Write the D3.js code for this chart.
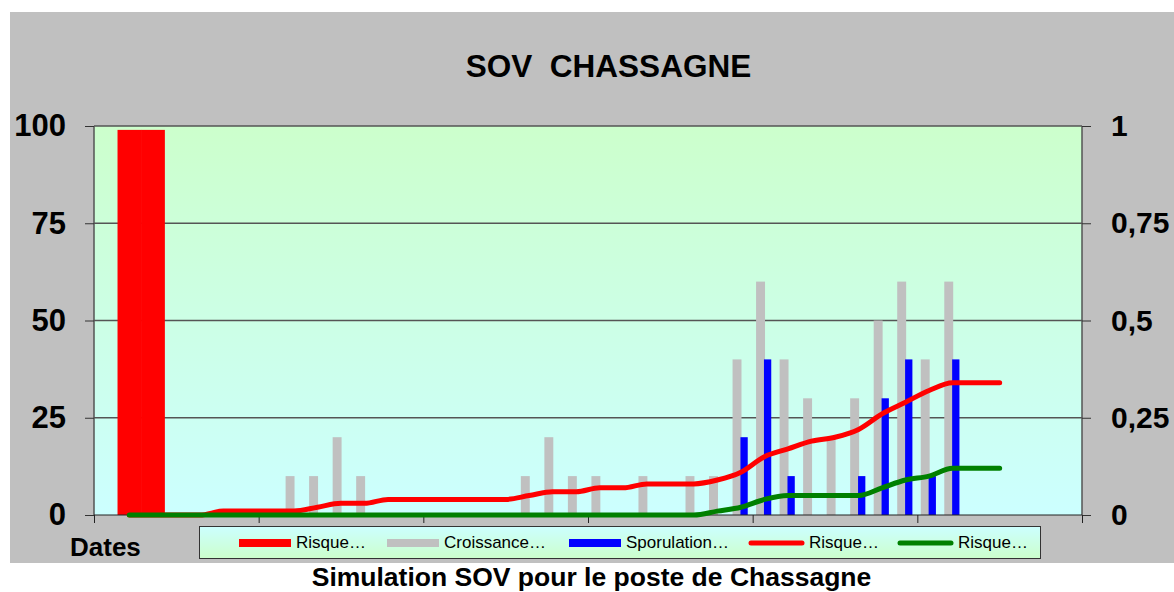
<!DOCTYPE html>
<html><head><meta charset="utf-8">
<script src="https://cdn.jsdelivr.net/npm/d3@7"></script>
<style>
html,body{margin:0;padding:0;background:#fff;}
svg{display:block;font-family:"Liberation Sans",Arial,sans-serif;}
</style></head>
<body>
<svg id="chart" width="1174" height="592"></svg>
<script>
// ---- data ----
const categories = d3.range(1, 43).map(d => "J" + d);
const riskBar = [0,99,99,0,0,0,0,0,0,0,0,0,0,0,0,0,0,0,0,0,0,0,0,0,0,0,0,0,0,0,0,0,0,0,0,0,0,0,0,0,0,0];
const croissance = [0,0,0,0,0,0,0,0,10,10,20,10,0,0,0,0,0,0,10,20,10,10,0,10,0,10,10,40,60,40,30,20,30,50,60,40,60,0,0,0,0,0];
const sporulation = [0,0,0,0,0,0,0,0,0,0,0,0,0,0,0,0,0,0,0,0,0,0,0,0,0,0,0,20,40,10,0,0,10,30,40,10,40,0,0,0,0,0];
const risqueRouge = [null,0,0,0,0,0.01,0.01,0.01,0.01,0.02,0.03,0.03,0.04,0.04,0.04,0.04,0.04,0.04,0.05,0.06,0.06,0.07,0.07,0.08,0.08,0.08,0.09,0.11,0.15,0.17,0.19,0.20,0.22,0.26,0.29,0.32,0.34,0.34,0.34,null,null,null];
const risqueVert = [null,0,0,0,0,0,0,0,0,0,0,0,0,0,0,0,0,0,0,0,0,0,0,0,0,0,0.01,0.02,0.04,0.05,0.05,0.05,0.05,0.07,0.09,0.10,0.12,0.12,0.12,null,null,null];
const leftTicks = [0,25,50,75,100];
const rightTicks = [0,0.25,0.5,0.75,1];
const seriesNames = ["Risque\u2026","Croissance\u2026","Sporulation\u2026","Risque\u2026","Risque\u2026"];
const title = "SOV  CHASSAGNE";
const subtitle = "Simulation SOV pour le poste de Chassagne";
const xTitle = "Dates";

// ---- layout ----
const L = 94, R = 1082, T = 126, B = 515;
const svg = d3.select("#chart");
const defs = svg.append("defs");
const g1 = defs.append("linearGradient").attr("id","plotbg").attr("x1",0).attr("y1",0).attr("x2",0).attr("y2",1);
g1.append("stop").attr("offset","0%").attr("stop-color","#CCFFCC");
g1.append("stop").attr("offset","100%").attr("stop-color","#CCFFFF");
const g2 = defs.append("linearGradient").attr("id","legbg").attr("x1",0).attr("y1",0).attr("x2",0).attr("y2",1);
g2.append("stop").attr("offset","0%").attr("stop-color","#CCFFFF");
g2.append("stop").attr("offset","100%").attr("stop-color","#CCFFCC");

svg.append("rect").attr("x",10).attr("y",12).attr("width",1170).attr("height",551).attr("fill","#C0C0C0");
svg.append("rect").attr("x",L).attr("y",T).attr("width",R-L).attr("height",B-T).attr("fill","url(#plotbg)");

const x = d3.scaleBand().domain(d3.range(categories.length)).range([L,R]).paddingInner(0).paddingOuter(0);
const xl = d3.scaleLinear().domain([0,categories.length]).range([L,R]);
const yL = d3.scaleLinear().domain([0,100]).range([B,T]);
const yR = d3.scaleLinear().domain([0,1]).range([B,T]);
const bw = x.bandwidth();

// gridlines
svg.append("g").selectAll("line").data(leftTicks.filter(d=>d>0)).join("line")
  .attr("x1",L).attr("x2",R).attr("y1",d=>yL(d)).attr("y2",d=>yL(d))
  .attr("stroke","#555").attr("stroke-width",1.5);

// bars
svg.append("g").selectAll("rect").data(riskBar.map((v,i)=>({v,i})).filter(d=>d.v>0)).join("rect")
  .attr("x",d=>x(d.i)).attr("width",bw+0.3).attr("y",d=>yL(d.v)).attr("height",d=>yL(0)-yL(d.v)).attr("fill","#FF0000");
svg.append("g").selectAll("rect").data(croissance.map((v,i)=>({v,i})).filter(d=>d.v>0)).join("rect")
  .attr("x",d=>x(d.i)+bw*0.145).attr("width",bw*0.38).attr("y",d=>yL(d.v)).attr("height",d=>yL(0)-yL(d.v)).attr("fill","#C0C0C0");
svg.append("g").selectAll("rect").data(sporulation.map((v,i)=>({v,i})).filter(d=>d.v>0)).join("rect")
  .attr("x",d=>x(d.i)+bw*0.48).attr("width",bw*0.31).attr("y",d=>yL(d.v)).attr("height",d=>yL(0)-yL(d.v)).attr("fill","#0000FF");

// axes
const axL = svg.append("g").attr("transform",`translate(${L},0)`)
  .call(d3.axisLeft(yL).tickValues(leftTicks).tickSize(9).tickPadding(19));
const axR = svg.append("g").attr("transform",`translate(${R},0)`)
  .call(d3.axisRight(yR).tickValues(rightTicks).tickSize(9).tickPadding(20)
    .tickFormat(d => String(d).replace(".", ",")));
const axB = svg.append("g").attr("transform",`translate(0,${B})`)
  .call(d3.axisBottom(xl).tickValues(d3.range(0,categories.length+1,7)).tickSize(8).tickFormat(""));
[axL,axR].forEach(a=>{
  a.selectAll("text").attr("font-size",30).attr("font-weight","bold").attr("fill","#000")
   .attr("font-family","'Liberation Sans',Arial,sans-serif");
  a.select(".domain").attr("stroke","#555").attr("stroke-width",1.5);
  a.selectAll(".tick line").attr("stroke","#333");
});
axL.selectAll("text").attr("font-size",31);
axL.select(".domain").attr("d",`M0,${B}V${T}`);
axR.select(".domain").attr("d",`M0,${B}V${T}`);
axB.select(".domain").attr("d",`M${L},0H${R}`).attr("stroke","#222");
axB.selectAll(".tick line").attr("stroke","#222");

// lines
const line = d3.line().defined(d=>d.v!==null).x(d=>x(d.i)+bw/2).y(d=>yR(d.v)).curve(d3.curveMonotoneX);
svg.append("path").datum(risqueRouge.map((v,i)=>({v,i}))).attr("d",line)
  .attr("fill","none").attr("stroke","#FF0000").attr("stroke-width",5).attr("stroke-linecap","round").attr("stroke-linejoin","round");
svg.append("path").datum(risqueVert.map((v,i)=>({v,i}))).attr("d",line)
  .attr("fill","none").attr("stroke","#008000").attr("stroke-width",5).attr("stroke-linecap","round").attr("stroke-linejoin","round");

// titles
svg.append("text").attr("x",608.5).attr("y",77).attr("text-anchor","middle")
  .attr("font-size",31.5).attr("font-weight","bold").style("white-space","pre").text(title);
svg.append("text").attr("x",70).attr("y",556).attr("font-size",26).attr("font-weight","bold").text(xTitle);
svg.append("text").attr("x",591.5).attr("y",585.5).attr("text-anchor","middle")
  .attr("font-size",26.5).attr("font-weight","bold").text(subtitle);

// legend
const leg = svg.append("g");
leg.append("rect").attr("x",199.5).attr("y",526.5).attr("width",841).attr("height",32)
  .attr("fill","url(#legbg)").attr("stroke","#333").attr("stroke-width",1);
const legItems = [
  {name:seriesNames[0], type:"bar", color:"#FF0000", sx:239, tx:296},
  {name:seriesNames[1], type:"bar", color:"#C0C0C0", sx:387, tx:444},
  {name:seriesNames[2], type:"bar", color:"#0000FF", sx:569, tx:626},
  {name:seriesNames[3], type:"line", color:"#FF0000", sx:751, tx:809},
  {name:seriesNames[4], type:"line", color:"#008000", sx:900, tx:958}
];
legItems.forEach(it=>{
  if(it.type==="bar"){
    leg.append("rect").attr("x",it.sx).attr("y",539).attr("width",52).attr("height",8).attr("fill",it.color);
  } else {
    leg.append("line").attr("x1",it.sx).attr("x2",it.sx+51).attr("y1",543).attr("y2",543)
      .attr("stroke",it.color).attr("stroke-width",5).attr("stroke-linecap","round");
  }
  leg.append("text").attr("x",it.tx).attr("y",548).attr("font-size",17).attr("fill","#000").text(it.name);
});
</script>
</body></html>
